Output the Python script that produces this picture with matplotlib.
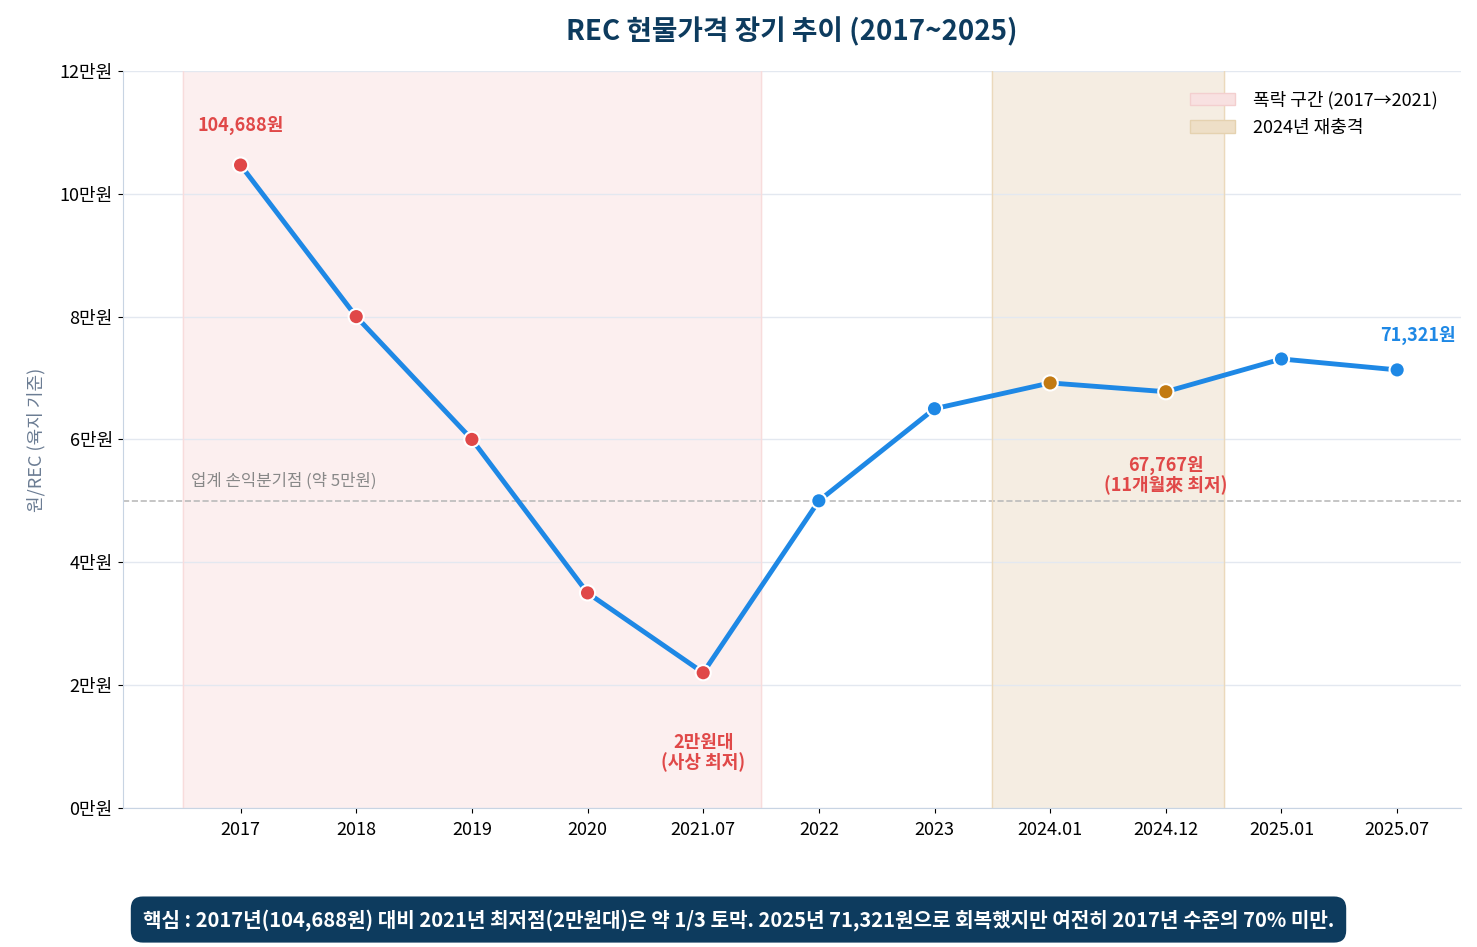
import numpy as np
import matplotlib
matplotlib.use("Agg")
import matplotlib.pyplot as plt
from matplotlib.patches import Patch
from matplotlib.ticker import FuncFormatter

plt.rcParams['font.family'] = ['Noto Sans CJK KR', 'DejaVu Sans']

labels = ["2017", "2018", "2019", "2020", "2021.07", "2022", "2023", "2024.01", "2024.12", "2025.01", "2025.07"]
prices = [104688, 80000, 60000, 35000, 22000, 50000, 65000, 69200, 67767, 73100, 71321]
point_colors = ["#E04848"] * 5 + ["#1E88E5"] * 2 + ["#C27A12"] * 2 + ["#1E88E5"] * 2

x = np.arange(len(labels))
fig = plt.figure(figsize=(14.77, 9.47), dpi=100)
ax = fig.add_axes([0.083, 0.147, 0.906, 0.778])

ax.axvspan(-0.5, 4.5, color="#FCEFEF", zorder=0)
ax.axvline(-0.5, color="#F8DCDC", lw=1)
ax.axvline(4.5, color="#F8DCDC", lw=1)
ax.axvspan(6.5, 8.5, color="#F5EDE2", zorder=0)
ax.axvline(6.5, color="#EBD9BC", lw=1)
ax.axvline(8.5, color="#EBD9BC", lw=1)

ax.plot(x, prices, color="#1E88E5", lw=3.5, zorder=3)
ax.scatter(x, prices, c=point_colors, s=120, edgecolors="white", linewidths=1.5, zorder=4)

ax.axhline(50000, color="#BBBBBB", ls="--", lw=1.2, zorder=1)
ax.text(-0.43, 51800, "업계 손익분기점 (약 5만원)", color="#888888", fontsize=12, va="bottom")

ax.text(0, 109500, "104,688원", color="#E04848", fontsize=13, fontweight="bold", ha="center", va="bottom")
ax.text(4, 5800, "2만원대\n(사상 최저)", color="#E04848", fontsize=13, fontweight="bold", ha="center", va="bottom", linespacing=1.0)
ax.text(8, 51000, "67,767원\n(11개월來 최저)", color="#E04848", fontsize=13, fontweight="bold", ha="center", va="bottom", linespacing=1.0)
ax.text(10.18, 75300, "71,321원", color="#1E88E5", fontsize=13, fontweight="bold", ha="center", va="bottom")

ax.set_xlim(-1.02, 10.55)
ax.set_ylim(0, 120000)
ax.set_xticks(x)
ax.set_xticklabels(labels, fontsize=13)
ax.tick_params(axis="x", pad=6)
ax.set_yticks(np.arange(0, 120001, 20000))
ax.yaxis.set_major_formatter(FuncFormatter(lambda v, p: f"{int(v/10000)}만원"))
ax.tick_params(axis="y", labelsize=13)
ax.grid(axis="y", color="#E3E8F0", lw=1)
ax.set_axisbelow(True)
for s in ["top", "right"]:
    ax.spines[s].set_visible(False)
for s in ["left", "bottom"]:
    ax.spines[s].set_color("#C8D4E3")
ax.set_ylabel("원/REC (육지 기준)", color="#6B7C93", fontsize=13, labelpad=10)
ax.set_title("REC 현물가격 장기 추이 (2017~2025)", fontsize=20, fontweight="bold", color="#0D3B5E", pad=22)

handles = [Patch(facecolor="#F8E1E1", edgecolor="#F3CFCF", label="폭락 구간 (2017→2021)"),
           Patch(facecolor="#EEDFC7", edgecolor="#E5D2B0", label="2024년 재충격")]
ax.legend(handles=handles, loc="upper right", frameon=False, fontsize=13, bbox_to_anchor=(0.995, 0.995),
          handlelength=2.5, handletextpad=1.0)

fig.text(0.5, 0.029, "핵심 : 2017년(104,688원) 대비 2021년 최저점(2만원대)은 약 1/3 토막. 2025년 71,321원으로 회복했지만 여전히 2017년 수준의 70% 미만.",
         ha="center", va="center", fontsize=14.5, fontweight="bold", color="white",
         bbox=dict(boxstyle="round,pad=0.6,rounding_size=0.6", facecolor="#0D3B5E", edgecolor="none"))

fig.savefig("out.png", dpi=100)
